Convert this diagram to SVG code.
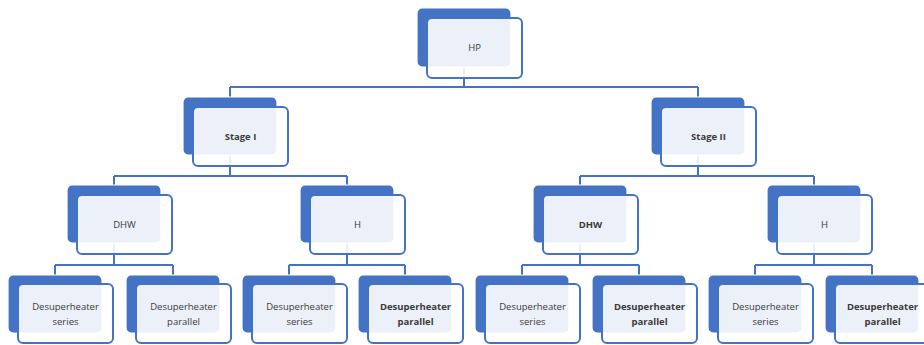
<svg xmlns="http://www.w3.org/2000/svg" width="924" height="345" viewBox="0 0 924 345">
<defs>
<style>
.back{fill:#4472C4;stroke:#ffffff;stroke-width:1.2}
.front{fill:#ffffff;fill-opacity:0.9;stroke:#4472C4;stroke-width:2}
.conn{fill:none;stroke:#4472C4;stroke-width:2}
.t{font-family:"Open Sans","Noto Sans","Liberation Sans",sans-serif;font-size:9.5px;fill:#3a3a3a;text-anchor:middle}
.b{font-weight:bold}
</style>
</defs>
<rect width="924" height="345" fill="#ffffff"/>
<g id="connectors" class="conn">
<path d="M464 66V87M230 87H698M230 87V97M698 87V97"/>
<path d="M230 155V176M114 176H347M114 176V185M347 176V185"/>
<path d="M698 155V176M580 176H814M580 176V185M814 176V185"/>
<path d="M114 243V265M55 265H173M55 265V275M173 265V275"/>
<path d="M347 243V265M289 265H405M289 265V275M405 265V275"/>
<path d="M580 243V265M522 265H639M522 265V275M639 265V275"/>
<path d="M814 243V265M755 265H872M755 265V275M872 265V275"/>
</g>
<g id="n-hp">
<rect class="back" x="417" y="8" width="94" height="59" rx="5"/>
<rect class="front" x="427" y="18" width="95" height="60" rx="5"/>
<text class="t" x="474.5" y="51">HP</text>
</g>
<g id="n-stage1">
<rect class="back" x="183" y="97" width="94" height="58" rx="5"/>
<rect class="front" x="193" y="107" width="95" height="59" rx="5"/>
<text class="t b" x="240.5" y="140">Stage I</text>
</g>
<g id="n-stage2">
<rect class="back" x="651" y="97" width="94" height="58" rx="5"/>
<rect class="front" x="661" y="107" width="95" height="59" rx="5"/>
<text class="t b" x="708.5" y="140">Stage II</text>
</g>
<g id="n-dhw1">
<rect class="back" x="67" y="185" width="94" height="58" rx="5"/>
<rect class="front" x="77" y="195" width="95" height="59" rx="5"/>
<text class="t" x="124.5" y="228">DHW</text>
</g>
<g id="n-h1">
<rect class="back" x="300" y="185" width="94" height="58" rx="5"/>
<rect class="front" x="310" y="195" width="95" height="59" rx="5"/>
<text class="t" x="357.5" y="228">H</text>
</g>
<g id="n-dhw2">
<rect class="back" x="533" y="185" width="94" height="58" rx="5"/>
<rect class="front" x="543" y="195" width="95" height="59" rx="5"/>
<text class="t b" x="590.5" y="228">DHW</text>
</g>
<g id="n-h2">
<rect class="back" x="767" y="185" width="94" height="58" rx="5"/>
<rect class="front" x="777" y="195" width="95" height="59" rx="5"/>
<text class="t" x="824.5" y="228">H</text>
</g>
<g id="n-ds1">
<rect class="back" x="8" y="275" width="94" height="58" rx="5"/>
<rect class="front" x="18" y="284" width="95" height="59" rx="5"/>
<text class="t" x="65.5" y="310">Desuperheater</text>
<text class="t" x="65.5" y="325">series</text>
</g>
<g id="n-dp1">
<rect class="back" x="126" y="275" width="94" height="58" rx="5"/>
<rect class="front" x="136" y="284" width="95" height="59" rx="5"/>
<text class="t" x="183.5" y="310">Desuperheater</text>
<text class="t" x="183.5" y="325">parallel</text>
</g>
<g id="n-ds2">
<rect class="back" x="242" y="275" width="94" height="58" rx="5"/>
<rect class="front" x="252" y="284" width="95" height="59" rx="5"/>
<text class="t" x="299.5" y="310">Desuperheater</text>
<text class="t" x="299.5" y="325">series</text>
</g>
<g id="n-dp2">
<rect class="back" x="358" y="275" width="94" height="58" rx="5"/>
<rect class="front" x="368" y="284" width="95" height="59" rx="5"/>
<text class="t b" x="415.5" y="310">Desuperheater</text>
<text class="t b" x="415.5" y="325">parallel</text>
</g>
<g id="n-ds3">
<rect class="back" x="475" y="275" width="94" height="58" rx="5"/>
<rect class="front" x="485" y="284" width="95" height="59" rx="5"/>
<text class="t" x="532.5" y="310">Desuperheater</text>
<text class="t" x="532.5" y="325">series</text>
</g>
<g id="n-dp3">
<rect class="back" x="592" y="275" width="94" height="58" rx="5"/>
<rect class="front" x="602" y="284" width="95" height="59" rx="5"/>
<text class="t b" x="649.5" y="310">Desuperheater</text>
<text class="t b" x="649.5" y="325">parallel</text>
</g>
<g id="n-ds4">
<rect class="back" x="708" y="275" width="94" height="58" rx="5"/>
<rect class="front" x="718" y="284" width="95" height="59" rx="5"/>
<text class="t" x="765.5" y="310">Desuperheater</text>
<text class="t" x="765.5" y="325">series</text>
</g>
<g id="n-dp4">
<rect class="back" x="825" y="275" width="94" height="58" rx="5"/>
<rect class="front" x="835" y="284" width="95" height="59" rx="5"/>
<text class="t b" x="882.5" y="310">Desuperheater</text>
<text class="t b" x="882.5" y="325">parallel</text>
</g>
</svg>
